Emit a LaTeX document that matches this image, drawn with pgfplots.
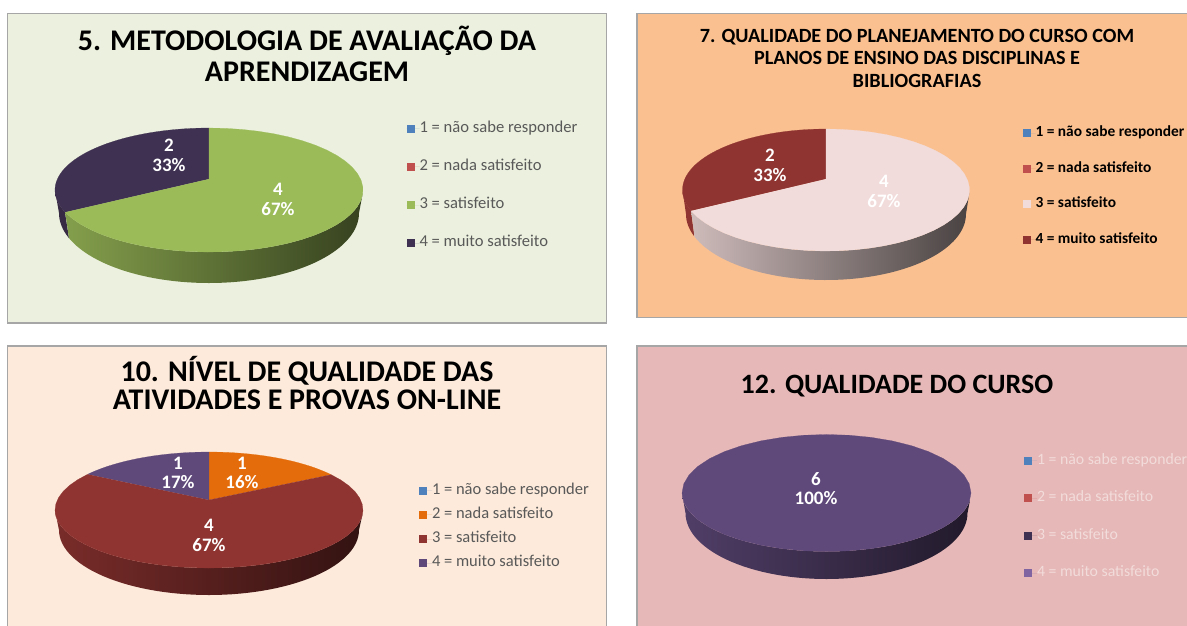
\documentclass[border=0pt]{standalone}
\usepackage{pgfplots}
\pgfplotsset{compat=1.18}
\usepackage{fontspec}
\setmainfont{Carlito}
\definecolor{bord}{HTML}{A6A6A6}
\definecolor{bgA}{HTML}{EBF1DE}
\definecolor{bgB}{HTML}{FBC08F}
\definecolor{bgC}{HTML}{FDEADA}
\definecolor{bgD}{HTML}{E6B8B7}
\definecolor{cblue}{HTML}{4F81BD}
\definecolor{cred}{HTML}{C0504D}
\definecolor{cgreen}{HTML}{9BBB59}
\definecolor{cdpurple}{HTML}{3F3151}
\definecolor{cpink}{HTML}{F2DCDB}
\definecolor{cdred}{HTML}{8F3431}
\definecolor{corange}{HTML}{E46C0A}
\definecolor{cpurple}{HTML}{5F497A}
\definecolor{clav}{HTML}{8064A2}
\newcommand{\topslice}[3]{%
  \addplot[forget plot, fill=#3, draw=#3, line width=0.2pt, domain=0:1.025, samples=42, variable=\t]
  ({(\t>1.01 ? \ax : \cx+\rx*cos(#1+(#2-#1)*\t))},{(\t>1.01 ? \ay : \cy-\ry*sin(#1+(#2-#1)*\t))});}
\newcommand{\sideslice}[4]{%
  \addplot[forget plot, left color=#3, right color=#4, draw=none, domain=0:2, samples=121, variable=\t]
  ({(\t<=1.001 ? \cx+\rxb*cos(#1+(#2-#1)*\t) : \cx+\rx*cos(#2-(#2-#1)*(\t-1)))},
   {(\t<=1.001 ? \cb-\rb*sin(#1+(#2-#1)*\t) : \cy-\ry*sin(#2-(#2-#1)*(\t-1)))});}
\pgfplotsset{
  panel/.style n args={5}{
    scale only axis, y dir=reverse, xtick=\empty, ytick=\empty, anchor=north west,
    at={(#1pt,-#3pt)}, xmin=#1, xmax=#2, ymin=#3, ymax=#4,
    width=#2pt-#1pt, height=#4pt-#3pt,
    axis line style={draw=bord,line width=1.5pt},
    axis background/.style={fill=#5},
    legend image code/.code={\path[draw=none] (0pt,0pt) -- (13pt,0pt);\fill[draw=none,##1] (0pt,-4pt) rectangle (8pt,4pt);},
    legend cell align=left,
  },
  lgd/.style n args={3}{
    legend style={at={(axis cs:#1,#2)}, anchor=north west, draw=none, fill=none,
      inner sep=0pt, outer sep=0pt, row sep=#3,
      nodes={inner sep=0pt, outer sep=0pt, text height=10pt, text depth=3pt}},
  },
}
\begin{document}
\begin{tikzpicture}
\path[use as bounding box, clip] (0pt,0pt) rectangle (1187pt,-625pt);
% ---- 5
\def\cx{209}\def\cy{190}\def\rx{154}\def\ry{62}\def\ax{209}\def\ay{179}\def\cb{213}\def\rb{70}\def\rxb{150}
\begin{axis}[panel={7.5}{606.5}{13.5}{323}{bgA},
  title={5. METODOLOGIA DE AVALIAÇÃO DA\\APRENDIZAGEM},
  title style={at={(axis cs:307,60)},anchor=center,align=center,text=black,font=\fontsize{30}{31}\selectfont\bfseries},
  lgd={406.5}{122}{25.3pt}, legend style={font=\fontsize{16.6}{16}\selectfont,text=black!65}]
\sideslice{180}{201}{cdpurple!85!black}{cdpurple!85!black}
\sideslice{201}{360}{cgreen!85!black}{cgreen!35!black}
\topslice{90}{201}{cdpurple}
\topslice{201}{450}{cgreen}
\addlegendimage{fill=cblue}\addlegendentry{1 = não sabe responder}
\addlegendimage{fill=cred}\addlegendentry{2 = nada satisfeito}
\addlegendimage{fill=cgreen}\addlegendentry{3 = satisfeito}
\addlegendimage{fill=cdpurple}\addlegendentry{4 = muito satisfeito}
\node[text=white,font=\fontsize{19}{20}\selectfont\bfseries,align=center] at (axis cs:169,155) {2\\33\%};
\node[text=white,font=\fontsize{19}{20}\selectfont\bfseries,align=center] at (axis cs:278,199) {4\\67\%};
\end{axis}
% ---- 7
\def\cx{826}\def\cy{190}\def\rx{143.5}\def\ry{61}\def\ax{826}\def\ay{179}\def\cb{214}\def\rb{66}\def\rxb{140}
\begin{axis}[panel={637}{1195}{13.5}{317.5}{bgB},
  title={7. QUALIDADE DO PLANEJAMENTO DO CURSO COM\\PLANOS DE ENSINO DAS DISCIPLINAS E\\BIBLIOGRAFIAS},
  title style={at={(axis cs:917,64)},anchor=center,align=center,text=black,font=\fontsize{20.2}{22.5}\selectfont\bfseries},
  lgd={1022.5}{126.5}{22.5pt}, legend style={font=\fontsize{15.4}{16}\selectfont\bfseries,text=black}]
\sideslice{180}{200}{cdred}{cdred}
\sideslice{200}{360}{cpink!85!black}{cpink!30!black}
\topslice{90}{200}{cdred}
\topslice{200}{450}{cpink}
\addlegendimage{fill=cblue}\addlegendentry{1 = não sabe responder}
\addlegendimage{fill=cred}\addlegendentry{2 = nada satisfeito}
\addlegendimage{fill=cpink}\addlegendentry{3 = satisfeito}
\addlegendimage{fill=cdred}\addlegendentry{4 = muito satisfeito}
\node[text=white,font=\fontsize{19}{20}\selectfont\bfseries,align=center] at (axis cs:770,165) {2\\33\%};
\node[text=white,font=\fontsize{19}{20}\selectfont\bfseries,align=center] at (axis cs:884,191) {4\\67\%};
\end{axis}
% ---- 10
\def\cx{209}\def\cy{510}\def\rx{154}\def\ry{58}\def\ax{209}\def\ay{500}\def\cb{530}\def\rb{65}\def\rxb{150}
\begin{axis}[panel={7.5}{606.5}{346}{632}{bgC},
  title={10. NÍVEL DE QUALIDADE DAS\\ATIVIDADES E PROVAS ON-LINE},
  title style={at={(axis cs:307,389)},anchor=center,align=center,text=black,font=\fontsize{30}{28}\selectfont\bfseries},
  lgd={419}{484}{11.3pt}, legend style={font=\fontsize{16.5}{16}\selectfont,text=black!65}]
\sideslice{180}{360}{cdred!85!black}{cdred!35!black}
\topslice{37.5}{90}{corange}
\topslice{90}{142}{cpurple}
\topslice{142}{397.5}{cdred}
\addlegendimage{fill=cblue}\addlegendentry{1 = não sabe responder}
\addlegendimage{fill=corange}\addlegendentry{2 = nada satisfeito}
\addlegendimage{fill=cdred}\addlegendentry{3 = satisfeito}
\addlegendimage{fill=cpurple}\addlegendentry{4 = muito satisfeito}
\node[text=white,font=\fontsize{19}{19}\selectfont\bfseries,align=center] at (axis cs:242,473) {1\\16\%};
\node[text=white,font=\fontsize{19}{19}\selectfont\bfseries,align=center] at (axis cs:178,473) {1\\17\%};
\node[text=white,font=\fontsize{19}{20}\selectfont\bfseries,align=center] at (axis cs:209,535) {4\\67\%};
\end{axis}
% ---- 12
\def\cx{826.5}\def\cy{493}\def\rx{144.5}\def\ry{58.5}\def\ax{826.5}\def\ay{493}\def\cb{513}\def\rb{66}\def\rxb{141}
\begin{axis}[panel={637}{1195}{346}{632}{bgD},
  title={12. QUALIDADE DO CURSO},
  title style={at={(axis cs:897,392)},anchor=center,align=center,text=black,font=\fontsize{28}{31}\selectfont\bfseries},
  lgd={1024}{454}{24.5pt}, legend style={font=\fontsize{15.8}{16}\selectfont,text=cpink}]
\sideslice{180}{360}{cpurple!85!black}{cpurple!35!black}
\topslice{90}{450}{cpurple}
\addlegendimage{fill=cblue}\addlegendentry{1 = não sabe responder}
\addlegendimage{fill=cred}\addlegendentry{2 = nada satisfeito}
\addlegendimage{fill=cdpurple}\addlegendentry{3 = satisfeito}
\addlegendimage{fill=clav}\addlegendentry{4 = muito satisfeito}
\node[text=white,font=\fontsize{19}{19}\selectfont\bfseries,align=center] at (axis cs:816,489) {6\\100\%};
\end{axis}
\end{tikzpicture}
\end{document}
